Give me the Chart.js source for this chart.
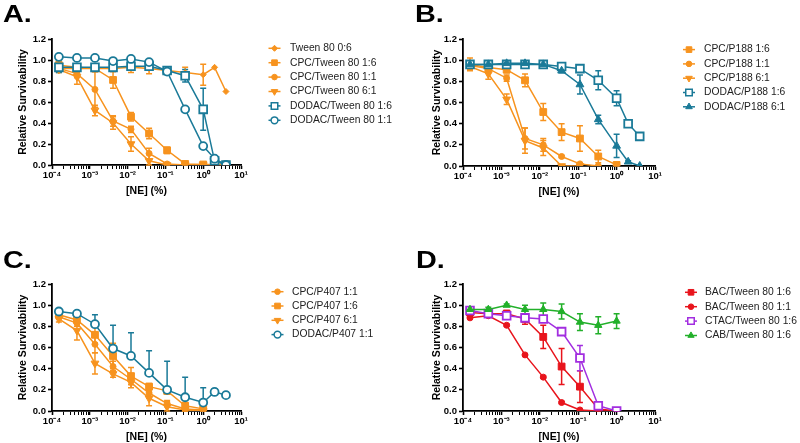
<!DOCTYPE html>
<html>
<head>
<meta charset="utf-8">
<script src="https://cdn.jsdelivr.net/npm/chart.js@4.4.1/dist/chart.umd.min.js"></script>
<style>
  html, body { margin: 0; padding: 0; background: #fff; }
  #wrap { position: relative; width: 800px; height: 443px; overflow: hidden; }
  canvas { position: absolute; }
</style>
</head>
<body>
<div id="wrap">
  <canvas id="cA" width="400" height="221" style="left:0;top:0"></canvas>
  <canvas id="cB" width="400" height="221" style="left:400px;top:0"></canvas>
  <canvas id="cC" width="400" height="222" style="left:0;top:221px"></canvas>
  <canvas id="cD" width="400" height="222" style="left:400px;top:221px"></canvas>
</div>
<script>
// ---------- DATA ----------
const NE = [0.000152, 0.000457, 0.00137, 0.00412, 0.0123, 0.037, 0.111, 0.333, 1, 2, 4];
const xTickLabels = ['10\u207B\u2074', '10\u207B\u00B3', '10\u207B\u00B2', '10\u207B\u00B9', '10\u2070', '10\u00B9'];
const panelLetters = ['A.', 'B.', 'C.', 'D.'];

// Panel A
const tween06   = [0.92, 0.92, 0.92, 0.92, 0.93, 0.92, 0.90, 0.88, 0.86, 0.93, 0.70];
const tween06E  = [0.02, 0.03, 0.03, 0.03, 0.05, 0.05, 0.03, 0.05, 0.10, 0, 0];
const cpcT16    = [0.95, 0.93, 0.92, 0.81, 0.46, 0.30, 0.14, 0.01, 0.005, 0.005, 0.005];
const cpcT16E   = [0.04, 0.03, 0.03, 0.08, 0.04, 0.05, 0.03, 0.01, 0, 0, 0];
const cpcT11    = [0.92, 0.87, 0.72, 0.42, 0.34, 0.11, 0.01, 0.00, 0.00];
const cpcT11E   = [0.03, 0.04, 0.17, 0.05, 0.03, 0.05, 0.01, 0, 0];
const cpcT61    = [0.91, 0.84, 0.52, 0.40, 0.20, 0.04, 0.00, 0.00, 0.00];
const cpcT61E   = [0.03, 0.07, 0.05, 0.06, 0.07, 0.06, 0, 0, 0];
const dodT16    = [0.93, 0.93, 0.93, 0.93, 0.94, 0.94, 0.90, 0.85, 0.53, 0.04, 0.00];
const dodT16E   = [0.05, 0.03, 0.03, 0.03, 0.03, 0.03, 0.03, 0.06, 0.20, 0.02, 0];
const dodT11    = [1.03, 1.02, 1.02, 0.99, 1.01, 0.98, 0.89, 0.53, 0.18, 0.06, 0.00];
const dodT11E   = [0.03, 0.03, 0.03, 0.02, 0.02, 0.02, 0.02, 0.01, 0.01, 0.02, 0];

// Panel B
const cpcP16    = [0.96, 0.93, 0.91, 0.81, 0.51, 0.32, 0.26, 0.09, 0.01];
const cpcP16E   = [0.06, 0.03, 0.03, 0.06, 0.08, 0.08, 0.12, 0.06, 0.01];
const cpcP11    = [0.95, 0.92, 0.83, 0.26, 0.20, 0.09, 0.02, 0.00];
const cpcP11E   = [0.03, 0.03, 0.03, 0.10, 0.06, 0.01, 0.01, 0];
const cpcP61    = [0.94, 0.87, 0.63, 0.24, 0.17, 0.00, 0.00];
const cpcP61E   = [0.03, 0.05, 0.05, 0.12, 0.07, 0, 0];
const dodP16    = [0.96, 0.96, 0.96, 0.96, 0.96, 0.94, 0.92, 0.81, 0.64, 0.40, 0.28];
const dodP16E   = [0.01, 0.01, 0.01, 0.01, 0.02, 0.02, 0.02, 0.09, 0.07, 0.01, 0.01];
const dodP61    = [0.96, 0.96, 0.97, 0.97, 0.96, 0.90, 0.77, 0.44, 0.19, 0.04, 0.00];
const dodP61E   = [0.01, 0.01, 0.01, 0.01, 0.01, 0.02, 0.09, 0.04, 0.11, 0.01, 0];

// Panel C
const cpc407_11  = [0.89, 0.83, 0.63, 0.42, 0.30, 0.17, 0.07, 0.02, 0.01];
const cpc407_11E = [0.02, 0.03, 0.08, 0.05, 0.05, 0.05, 0.03, 0.02, 0.01];
const cpc407_16  = [0.91, 0.86, 0.72, 0.52, 0.33, 0.23, 0.19, 0.05, 0.02];
const cpc407_16E = [0.03, 0.03, 0.08, 0.12, 0.08, 0.03, 0.03, 0.03, 0.02];
const cpc407_61  = [0.87, 0.76, 0.45, 0.35, 0.27, 0.12, 0.04, 0.01, 0.00];
const cpc407_61E = [0.03, 0.09, 0.10, 0.03, 0.05, 0.07, 0.05, 0.01, 0];
const dod407_11  = [0.94, 0.92, 0.82, 0.59, 0.52, 0.36, 0.20, 0.13, 0.08, 0.18, 0.15];
const dod407_11E = [0.02, 0.02, 0.09, 0.22, 0.22, 0.21, 0.27, 0.19, 0.14, 0.03, 0.03];

// Panel D
const bac16   = [0.93, 0.92, 0.92, 0.87, 0.70, 0.42, 0.23, 0.02, 0.00];
const bac16E  = [0.03, 0.03, 0.03, 0.05, 0.11, 0.17, 0.15, 0.02, 0.01];
const bac11   = [0.88, 0.90, 0.81, 0.53, 0.32, 0.08, 0.01, 0.00, 0.00];
const bac11E  = [0.01, 0.01, 0.01, 0.01, 0.01, 0.01, 0, 0, 0];
const ctac16  = [0.95, 0.92, 0.90, 0.88, 0.87, 0.75, 0.50, 0.05, 0.00];
const ctac16E = [0.02, 0.02, 0.02, 0.02, 0.02, 0.03, 0.12, 0.02, 0.01];
const cab16   = [0.96, 0.96, 1.00, 0.96, 0.96, 0.94, 0.84, 0.81, 0.85];
const cab16E  = [0.02, 0.02, 0.01, 0.04, 0.06, 0.07, 0.08, 0.08, 0.07];

// ---------- STYLE ----------
const ORANGE = '#F7931E', TEAL = '#1A7A98', RED = '#E8141C', PURPLE = '#A22EE0', GREEN = '#22B02A';
Chart.defaults.font.family = '"Liberation Sans", Arial, sans-serif';
Chart.defaults.color = '#000';

function series(label, ys, errs, color, style, o) {
  o = o || {};
  return {
    label: label,
    data: ys.map((v, i) => ({ x: NE[i], y: v })),
    errors: errs,
    errUpOnly: !!o.upOnly,
    borderColor: color,
    backgroundColor: color,
    borderWidth: 1.5,
    tension: 0,
    pointStyle: style,
    pointRadius: o.r || 4,
    pointRotation: o.rot || 0,
    pointBackgroundColor: o.open ? '#fff' : color,
    pointBorderColor: color,
    pointBorderWidth: o.open ? 1.8 : 1,
    legendR: o.lr || (o.r ? o.r * 0.85 : 3.4),
    open: !!o.open
  };
}

function drawMarker(ctx, style, r, rot, x, y, fill, stroke, lw) {
  ctx.save();
  ctx.translate(x, y);
  ctx.rotate(rot * Math.PI / 180);
  ctx.beginPath();
  if (style === 'circle') ctx.arc(0, 0, r, 0, Math.PI * 2);
  else if (style === 'rect') { const s = r * Math.SQRT1_2; ctx.rect(-s, -s, 2 * s, 2 * s); }
  else if (style === 'rectRot') { ctx.moveTo(0, -r); ctx.lineTo(r, 0); ctx.lineTo(0, r); ctx.lineTo(-r, 0); ctx.closePath(); }
  else if (style === 'triangle') {
    for (let k = 0; k < 3; k++) {
      const a = k * 2 * Math.PI / 3;
      const px = Math.sin(a) * r, py = -Math.cos(a) * r;
      if (k === 0) ctx.moveTo(px, py); else ctx.lineTo(px, py);
    }
    ctx.closePath();
  }
  ctx.fillStyle = fill; ctx.fill();
  ctx.lineWidth = lw; ctx.strokeStyle = stroke; ctx.stroke();
  ctx.restore();
}

const errorBarPlugin = {
  id: 'errorBars',
  beforeDatasetsDraw(chart) {
    const ctx = chart.ctx, xs = chart.scales.x, ys = chart.scales.y, ca = chart.chartArea;
    ctx.save();
    ctx.beginPath();
    ctx.rect(ca.left - 5, ca.top - 3, ca.width + 10, ca.height + 4);
    ctx.clip();
    chart.data.datasets.forEach(ds => {
      if (!ds.errors) return;
      ctx.strokeStyle = ds.borderColor;
      ctx.lineWidth = 1.5;
      ds.data.forEach((p, i) => {
        const e = ds.errors[i];
        if (!e) return;
        const px = xs.getPixelForValue(p.x);
        const up = ys.getPixelForValue(p.y + e);
        const dn = ys.getPixelForValue(ds.errUpOnly ? p.y : Math.max(0, p.y - e));
        ctx.beginPath();
        ctx.moveTo(px, up); ctx.lineTo(px, dn);
        ctx.moveTo(px - 3, up); ctx.lineTo(px + 3, up);
        if (!ds.errUpOnly) { ctx.moveTo(px - 3, dn); ctx.lineTo(px + 3, dn); }
        ctx.stroke();
      });
    });
    ctx.restore();
  }
};

const extrasPlugin = {
  id: 'extras',
  afterDraw(chart, args, opts) {
    const ctx = chart.ctx;
    ctx.save();
    // panel letter (slightly wide, heavy look)
    ctx.save();
    ctx.translate(opts.letterX, opts.letterY);
    ctx.scale(1.2, 1);
    ctx.font = 'bold 24px "Liberation Sans", Arial, sans-serif';
    ctx.fillStyle = '#000';
    ctx.textBaseline = 'alphabetic';
    ctx.textAlign = 'left';
    ctx.fillText(opts.letter, 0, 0);
    ctx.restore();
    // legend
    ctx.font = '10.3px "Liberation Sans", Arial, sans-serif';
    ctx.textBaseline = 'middle';
    ctx.textAlign = 'left';
    chart.data.datasets.forEach((ds, i) => {
      const y = opts.legY + i * opts.legDy;
      ctx.beginPath();
      ctx.strokeStyle = ds.borderColor;
      ctx.lineWidth = 1.5;
      ctx.moveTo(opts.legX - 6, y); ctx.lineTo(opts.legX + 6, y);
      ctx.stroke();
      drawMarker(ctx, ds.pointStyle, ds.legendR, ds.pointRotation, opts.legX, y,
        ds.open ? '#fff' : ds.borderColor, ds.borderColor, ds.open ? 1.5 : 1);
      ctx.fillStyle = '#222';
      ctx.fillText(ds.label, opts.legTextX, y);
    });
    ctx.restore();
  }
};

function isDecade(v) {
  const l = Math.log10(v);
  return Math.abs(l - Math.round(l)) < 1e-9;
}

function makeChart(id, datasets, L) {
  datasets.forEach((d, i) => { d.order = -i; });
  return new Chart(document.getElementById(id), {
    type: 'line',
    data: { datasets: datasets },
    options: {
      responsive: false,
      animation: false,
      events: [],
      layout: { padding: { left: 0, top: L.top, right: L.right, bottom: L.bottom } },
      plugins: {
        legend: { display: false },
        tooltip: { enabled: false },
        extras: L.extras
      },
      scales: {
        x: {
          type: 'logarithmic',
          min: 1e-4, max: 10,
          afterBuildTicks(scale) {
            const t = [];
            for (let e = -4; e <= 1; e++) {
              for (let m = 1; m <= 9; m++) {
                const v = m * Math.pow(10, e);
                if (v > 10 + 1e-9) break;
                t.push({ value: v, major: m === 1 });
              }
            }
            scale.ticks = t;
          },
          afterFit(scale) { scale.height = 32; },
          ticks: {
            autoSkip: false, maxRotation: 0, minRotation: 0, padding: 1,
            font: { size: 9.5, weight: 'bold' }, color: '#000',
            callback(v) {
              if (!isDecade(v)) return '';
              return xTickLabels[Math.round(Math.log10(v)) + 4];
            }
          },
          grid: {
            drawOnChartArea: false, drawTicks: true, tickLength: 4, tickColor: '#000',
            tickWidth: (c) => (c.tick && isDecade(c.tick.value)) ? 1.6 : 1
          },
          border: { color: '#000', width: 1.8 },
          title: {
            display: true, text: '[NE] (%)', color: '#000',
            font: { size: 10.5, weight: 'bold' }, padding: { top: 0, bottom: 0 }
          }
        },
        y: {
          min: 0, max: 1.2,
          afterFit(scale) { scale.width = L.yw; },
          ticks: {
            stepSize: 0.2, padding: 2, color: '#000',
            font: { size: 9.5, weight: 'bold' },
            callback(v) { return v.toFixed(1); }
          },
          grid: { drawOnChartArea: false, drawTicks: true, tickLength: 4, tickColor: '#000', tickWidth: 1.6 },
          border: { color: '#000', width: 1.8 },
          title: {
            display: true, text: 'Relative Survivability', color: '#000',
            font: { size: 10.5, weight: 'bold' }, padding: { top: L.ytp, bottom: 0 }
          }
        }
      }
    },
    plugins: [errorBarPlugin, extrasPlugin]
  });
}

// Panel A
makeChart('cA', [
  series('Tween 80 0:6', tween06, tween06E, ORANGE, 'rectRot', { r: 3, lr: 3 }),
  series('CPC/Tween 80 1:6', cpcT16, cpcT16E, ORANGE, 'rect', { r: 4.8, lr: 4 }),
  series('CPC/Tween 80 1:1', cpcT11, cpcT11E, ORANGE, 'circle', { r: 3, lr: 2.8 }),
  series('CPC/Tween 80 6:1', cpcT61, cpcT61E, ORANGE, 'triangle', { r: 4.5, rot: 180, lr: 3.8 }),
  series('DODAC/Tween 80 1:6', dodT16, dodT16E, TEAL, 'rect', { r: 5.5, open: true, lr: 4.6 }),
  series('DODAC/Tween 80 1:1', dodT11, dodT11E, TEAL, 'circle', { r: 4, open: true, lr: 3.4 })
], { top: 39, right: 159, bottom: 24, yw: 52, ytp: 16.7,
     extras: { letter: panelLetters[0], letterX: 3, letterY: 22, legX: 274.5, legTextX: 290, legY: 48.3, legDy: 14.4 } });

// Panel B
makeChart('cB', [
  series('CPC/P188 1:6', cpcP16, cpcP16E, ORANGE, 'rect', { r: 4.8, lr: 4 }),
  series('CPC/P188 1:1', cpcP11, cpcP11E, ORANGE, 'circle', { r: 3, lr: 2.8 }),
  series('CPC/P188 6:1', cpcP61, cpcP61E, ORANGE, 'triangle', { r: 4.5, rot: 180, lr: 3.8 }),
  series('DODAC/P188 1:6', dodP16, dodP16E, TEAL, 'rect', { r: 5.5, open: true, lr: 4.6 }),
  series('DODAC/P188 6:1', dodP61, dodP61E, TEAL, 'triangle', { r: 4.5, lr: 3.8 })
], { top: 39, right: 145, bottom: 23, yw: 63, ytp: 30.7,
     extras: { letter: panelLetters[1], letterX: 15, letterY: 22, legX: 289, legTextX: 304, legY: 49.6, legDy: 14.3 } });

// Panel C
makeChart('cC', [
  series('CPC/P407 1:1', cpc407_11, cpc407_11E, ORANGE, 'circle', { r: 3, lr: 2.8 }),
  series('CPC/P407 1:6', cpc407_16, cpc407_16E, ORANGE, 'rect', { r: 4.8, lr: 4 }),
  series('CPC/P407 6:1', cpc407_61, cpc407_61E, ORANGE, 'triangle', { r: 4.5, rot: 180, lr: 3.8 }),
  series('DODAC/P407 1:1', dod407_11, dod407_11E, TEAL, 'circle', { r: 4, open: true, lr: 3.4, upOnly: true })
], { top: 63, right: 159, bottom: 0, yw: 52, ytp: 16.7,
     extras: { letter: panelLetters[2], letterX: 3, letterY: 47, legX: 277.5, legTextX: 292, legY: 70.7, legDy: 14.3 } });

// Panel D
makeChart('cD', [
  series('BAC/Tween 80 1:6', bac16, bac16E, RED, 'rect', { r: 4.8, lr: 4 }),
  series('BAC/Tween 80 1:1', bac11, bac11E, RED, 'circle', { r: 3, lr: 2.8 }),
  series('CTAC/Tween 80 1:6', ctac16, ctac16E, PURPLE, 'rect', { r: 5.5, open: true, lr: 4.6 }),
  series('CAB/Tween 80 1:6', cab16, cab16E, GREEN, 'triangle', { r: 4.2, lr: 3.6 })
], { top: 63, right: 145, bottom: 0, yw: 63, ytp: 30.7,
     extras: { letter: panelLetters[3], letterX: 16, letterY: 47, legX: 291, legTextX: 305, legY: 71.3, legDy: 14.4 } });
</script>
</body>
</html>
